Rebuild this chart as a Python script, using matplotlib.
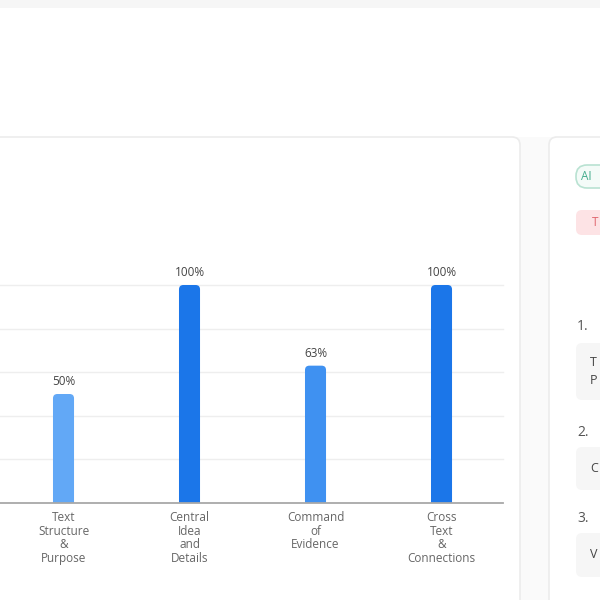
import matplotlib
matplotlib.use("Agg")
import matplotlib.pyplot as plt
from matplotlib.patches import FancyBboxPatch, Rectangle

plt.rcParams['font.family'] = ['Open Sans', 'DejaVu Sans']

# ---- data ----
categories = ["Text\nStructure\n&\nPurpose", "Central\nIdea\nand\nDetails",
              "Command\nof\nEvidence", "Cross\nText\n&\nConnections"]
scores = [50, 100, 63, 100]
bar_colors = ["#62a8f6", "#1b76e9", "#3f91f1", "#1b76e9"]
y_ticks = [0, 20, 40, 60, 80, 100]
# side-panel items (only their first letters are visible in the cropped view)
side_items = ["T\nP", "C", "V"]
pill_text = "AI"
tag_text = "T"

W, H = 600, 600
fig = plt.figure(figsize=(6, 6), dpi=100)
fig.patch.set_facecolor("#fafafa")

# background / page layer in pixel coordinates
bg = fig.add_axes([0, 0, 1, 1], zorder=0)
bg.set_xlim(0, W)
bg.set_ylim(H, 0)
bg.axis("off")
bg.add_patch(Rectangle((0, 8), W, 129, facecolor="white", edgecolor="none"))
bg.add_patch(Rectangle((0, 0), W, 8, facecolor="#f6f6f6", edgecolor="none"))
# main card
bg.add_patch(FancyBboxPatch((-20, 137), 540, 500, boxstyle="round,pad=0,rounding_size=8",
                            facecolor="white", edgecolor="#ececec", linewidth=1.2))
# side card
bg.add_patch(FancyBboxPatch((549, 137), 80, 500, boxstyle="round,pad=0,rounding_size=8",
                            facecolor="white", edgecolor="#ececec", linewidth=1.2))
# AI pill
bg.add_patch(FancyBboxPatch((576, 165), 40, 23, boxstyle="round,pad=0,rounding_size=11",
                            facecolor="#f4fbf8", edgecolor="#b9e2d2", linewidth=1.2))
bg.text(581, 177, pill_text, color="#45ad8e", fontsize=8.5, va="center", ha="left")
# pink tag
bg.add_patch(FancyBboxPatch((576, 210), 60, 25, boxstyle="round,pad=0,rounding_size=6",
                            facecolor="#fde3e5", edgecolor="none"))
bg.text(592, 222, tag_text, color="#e0666e", fontsize=8.5, va="center", ha="left")
# numbered list
num_y = [327, 433, 519]
box_y = [(343, 400), (447, 490), (533, 577)]
for i, item in enumerate(side_items):
    bg.text(577, num_y[i], f"{i+1}.", color="#555555", fontsize=10, va="center", ha="left")
    y0, y1 = box_y[i]
    bg.add_patch(FancyBboxPatch((576, y0), 60, y1 - y0, boxstyle="round,pad=0,rounding_size=6",
                                facecolor="#f6f6f6", edgecolor="none"))
    bg.text(590, (y0 + y1) / 2, item, color="#444444", fontsize=9, va="center", ha="left",
            linespacing=1.5)

# chart axes
ax_left, ax_right, ax_top, ax_bottom = 0, 503, 285, 503
ax = fig.add_axes([ax_left / W, (H - ax_bottom) / H, (ax_right - ax_left) / W,
                   (ax_bottom - ax_top) / H], zorder=1)
ax.patch.set_alpha(0)
x = list(range(len(categories)))
ax.set_xlim(-0.504, 3.488)
ax.set_ylim(0, 100)

for t in y_ticks[1:]:
    ax.axhline(t, color="#eeeeee", linewidth=1, zorder=0, clip_on=False)

bw = 0.167
bars = ax.bar(x, scores, width=bw, color=bar_colors, zorder=2)
# replace with rounded-top bars
aspect = (100 / 218) / (1 / 126)
for b, c in zip(bars, bar_colors):
    b.set_visible(False)
    p = FancyBboxPatch((b.get_x(), -5), b.get_width(), b.get_height() + 5,
                       boxstyle="round,pad=0,rounding_size=0.035", mutation_aspect=aspect,
                       facecolor=c, edgecolor="none", zorder=2, clip_on=True)
    ax.add_patch(p)
    ax.annotate(f"{b.get_height():.0f}%", (b.get_x() + b.get_width() / 2, b.get_height()),
                xytext=(0, 4), textcoords="offset points", ha="center", va="bottom",
                fontsize=8.5, color="#444444")

ax.axhline(0, color="#a8a8a8", linewidth=1.3, zorder=3, clip_on=False)
for s in ax.spines.values():
    s.set_visible(False)
ax.set_yticks([])
ax.set_xticks(x)
ax.set_xticklabels(categories, fontsize=8.5, color="#666666", linespacing=1.05)
ax.tick_params(axis="x", length=0, pad=6)

fig.savefig("out.png", dpi=100, facecolor=fig.get_facecolor())
